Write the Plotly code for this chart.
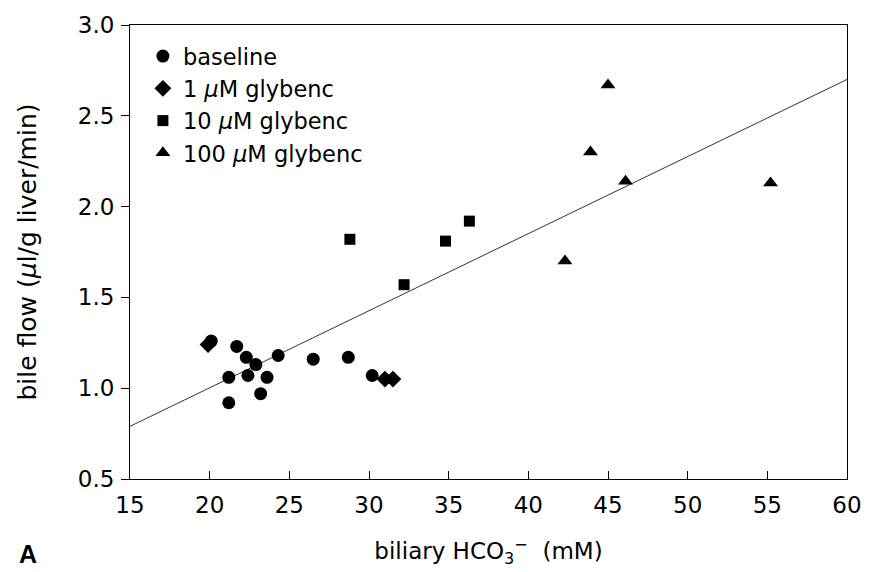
import plotly.graph_objects as go

# data
baseline_x = [20.1, 21.2, 21.2, 21.7, 22.3, 22.4, 22.9, 23.2, 23.6, 24.3, 26.5, 28.7, 30.2]
baseline_y = [1.26, 0.92, 1.06, 1.23, 1.17, 1.07, 1.13, 0.97, 1.06, 1.18, 1.16, 1.17, 1.07]
glyb1_x = [19.9, 31.0, 31.5]
glyb1_y = [1.24, 1.05, 1.05]
glyb10_x = [28.8, 32.2, 34.8, 36.3]
glyb10_y = [1.82, 1.57, 1.81, 1.92]
glyb100_x = [42.3, 43.9, 45.0, 46.1, 55.2]
glyb100_y = [1.70, 2.30, 2.67, 2.14, 2.13]
fit_x = [15, 60]
fit_y = [0.79, 2.70]
x_ticks = [15, 20, 25, 30, 35, 40, 45, 50, 55, 60]
y_ticks = [0.5, 1.0, 1.5, 2.0, 2.5, 3.0]

FONT = "DejaVu Sans"

fig = go.Figure()
fig.add_trace(go.Scatter(x=fit_x, y=fit_y, mode="lines",
                         line=dict(color="#333", width=1), showlegend=False, hoverinfo="skip"))
fig.add_trace(go.Scatter(x=baseline_x, y=baseline_y, mode="markers", name="baseline",
                         marker=dict(symbol="circle", size=13, color="black")))
fig.add_trace(go.Scatter(x=glyb1_x, y=glyb1_y, mode="markers", name="1 <i>μ</i>M glybenc",
                         marker=dict(symbol="diamond", size=13, color="black")))
fig.add_trace(go.Scatter(x=glyb10_x, y=glyb10_y, mode="markers", name="10 <i>μ</i>M glybenc",
                         marker=dict(symbol="square", size=11, color="black")))
fig.add_trace(go.Scatter(x=glyb100_x, y=glyb100_y, mode="markers", name="100 <i>μ</i>M glybenc",
                         marker=dict(symbol="triangle-up", size=13, color="black")))

fig.update_layout(
    width=874, height=572,
    margin=dict(l=130, r=17, t=22, b=93),
    paper_bgcolor="white", plot_bgcolor="white",
    font=dict(family=FONT, color="black", size=23),
    legend=dict(x=0.018, y=0.978, xanchor="left", yanchor="top",
                bgcolor="rgba(0,0,0,0)", font=dict(size=22.5), tracegroupgap=0,
                itemwidth=30),
    annotations=[dict(text="<b>A</b>", xref="paper", yref="paper",
                      x=-0.158, y=-0.165, xanchor="left", yanchor="middle",
                      showarrow=False, font=dict(size=25, family="Liberation Sans"))],
)

fig.update_xaxes(range=[15, 60], tickvals=x_ticks, ticktext=[str(v) for v in x_ticks],
                 showgrid=False, zeroline=False, showline=True, linecolor="black",
                 linewidth=1, mirror=True, ticks="inside", ticklen=8, tickcolor="black",
                 tickfont=dict(size=23), ticklabelstandoff=5,
                 title=dict(text="biliary HCO<sub>3</sub><sup>−</sup>  (mM)",
                            font=dict(size=23), standoff=26))
fig.update_yaxes(range=[0.5, 3.0], tickvals=y_ticks, ticktext=[f"{v:.1f}" for v in y_ticks],
                 showgrid=False, zeroline=False, showline=True, linecolor="black",
                 linewidth=1, mirror=True, ticks="outside", ticklen=8, tickcolor="black",
                 tickfont=dict(size=23), ticklabelstandoff=2,
                 title=dict(text="bile flow (<i>μ</i>l/g liver/min)",
                            font=dict(size=25), standoff=34))

fig.write_html("out.html", config={"displayModeBar": False, "staticPlot": True},
               post_script="document.body.style.margin='0';document.body.style.overflow='hidden';")
